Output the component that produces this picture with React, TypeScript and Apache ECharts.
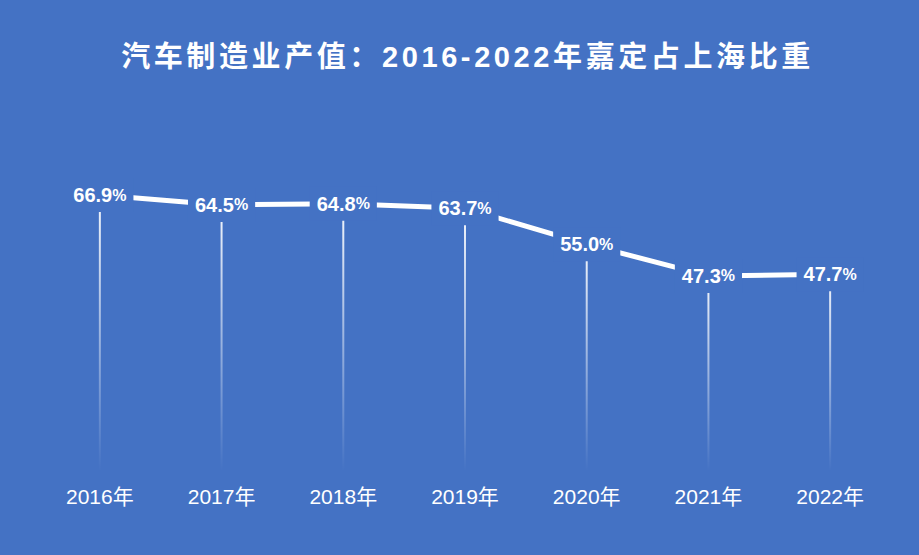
import React, { useEffect, useRef } from "react";
import * as echarts from "echarts";

const TITLE = "汽车制造业产值：2016-2022年嘉定占上海比重";
const categories = ["2016年", "2017年", "2018年", "2019年", "2020年", "2021年", "2022年"];
const shareValues = [66.9, 64.5, 64.8, 63.7, 55.0, 47.3, 47.7];

const BG = "#4472C4";
const FONT = "'Liberation Sans', Arial, 'Noto Sans CJK SC', sans-serif";

export default function App() {
  const ref = useRef<HTMLDivElement>(null);
  useEffect(() => {
    if (!ref.current) return;
    const chart = echarts.init(ref.current, undefined, { renderer: "svg" });
    chart.setOption({
      animation: false,
      backgroundColor: BG,
      title: {
        text: TITLE,
        left: "center",
        top: 37,
        textStyle: {
          color: "#ffffff",
          fontSize: 29,
          fontWeight: "bold",
          fontFamily: FONT,
        },
      },
      grid: { left: 39, right: 28, top: 141, bottom: 84 },
      xAxis: {
        type: "category",
        data: categories,
        boundaryGap: true,
        axisLine: { show: false },
        axisTick: { show: false },
        axisLabel: {
          color: "#ffffff",
          fontSize: 21,
          margin: 15,
          fontFamily: FONT,
        },
      },
      yAxis: {
        type: "value",
        min: 0,
        max: 80,
        show: false,
        splitLine: { show: false },
      },
      series: [
        {
          type: "bar",
          data: shareValues,
          barWidth: 2,
          silent: true,
          itemStyle: {
            color: new echarts.graphic.LinearGradient(0, 0, 0, 1, [
              { offset: 0, color: "rgba(255,255,255,0.95)" },
              { offset: 1, color: "rgba(255,255,255,0)" },
            ]),
          },
          z: 1,
        },
        {
          type: "line",
          data: shareValues,
          symbol: "circle",
          symbolSize: 2,
          showSymbol: true,
          lineStyle: { color: "#ffffff", width: 5 },
          itemStyle: { color: "#ffffff" },
          z: 3,
          label: {
            show: true,
            position: "inside",
            backgroundColor: BG,
            padding: [7, 7],
            formatter: (p: any) => `{v|${p.value.toFixed(1)}}{p|%}`,
            rich: {
              v: {
                color: "#ffffff",
                fontSize: 20,
                fontWeight: "bold",
                fontFamily: FONT,
              },
              p: {
                color: "#ffffff",
                fontSize: 16,
                fontWeight: "bold",
                fontFamily: FONT,
              },
            },
          },
        },
      ],
    });
    const texts = ref.current.querySelectorAll("text");
    texts.forEach((t) => {
      if (t.textContent === TITLE) {
        t.setAttribute("letter-spacing", "3.6");
        t.setAttribute("dx", "8");
      }
    });
    return () => chart.dispose();
  }, []);
  return (
    <div
      ref={ref}
      style={{ position: "fixed", left: 0, top: 0, width: 919, height: 555 }}
    />
  );
}
